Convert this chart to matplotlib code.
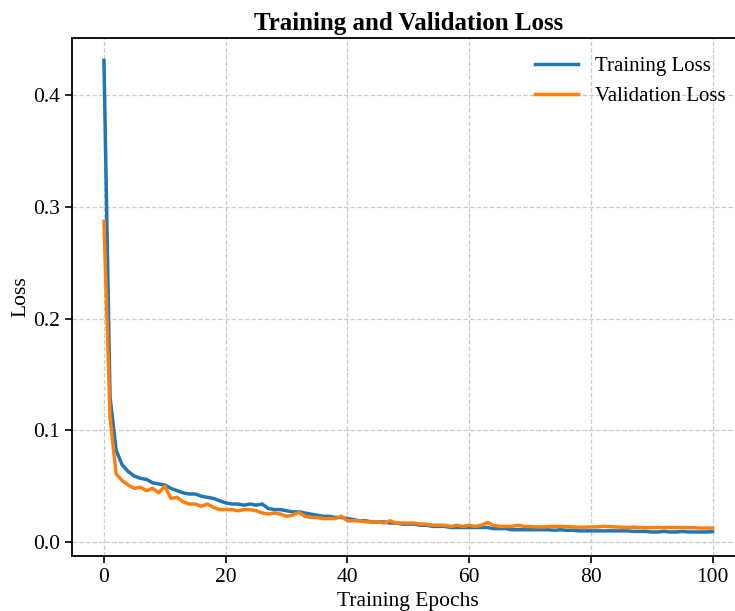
import matplotlib
matplotlib.use("Agg")
import matplotlib.pyplot as plt
import numpy as np

epochs = list(range(101))

train_loss = [
    0.431, 0.130, 0.082, 0.069, 0.063, 0.059, 0.057, 0.056, 0.053, 0.052,
    0.051, 0.048, 0.046, 0.044, 0.043, 0.043, 0.041, 0.040, 0.039, 0.037,
    0.035, 0.034, 0.034, 0.033, 0.034, 0.033, 0.034, 0.030, 0.029, 0.029,
    0.028, 0.027, 0.027, 0.026, 0.025, 0.024, 0.023, 0.023, 0.022, 0.022,
    0.021, 0.020, 0.019, 0.019, 0.018, 0.018, 0.018, 0.017, 0.017, 0.016,
    0.016, 0.016, 0.015, 0.015, 0.014, 0.014, 0.014, 0.013, 0.013, 0.013,
    0.013, 0.013, 0.013, 0.013, 0.012, 0.012, 0.012, 0.011, 0.011, 0.011,
    0.011, 0.011, 0.011, 0.011, 0.0105, 0.011, 0.0105, 0.0105, 0.010, 0.010,
    0.010, 0.010, 0.010, 0.010, 0.010, 0.010, 0.010, 0.0095, 0.0095, 0.0095,
    0.009, 0.009, 0.0095, 0.009, 0.009, 0.0095, 0.009, 0.009, 0.009, 0.009,
    0.0093,
]

val_loss = [
    0.287, 0.112, 0.061, 0.055, 0.051, 0.048, 0.049, 0.046, 0.048, 0.044,
    0.050, 0.039, 0.040, 0.036, 0.034, 0.034, 0.032, 0.034, 0.031, 0.029,
    0.029, 0.029, 0.028, 0.029, 0.029, 0.028, 0.026, 0.025, 0.026, 0.025,
    0.023, 0.024, 0.0265, 0.023, 0.022, 0.022, 0.021, 0.021, 0.021, 0.023,
    0.019, 0.019, 0.019, 0.018, 0.018, 0.018, 0.017, 0.019, 0.017, 0.017,
    0.017, 0.017, 0.016, 0.016, 0.015, 0.015, 0.015, 0.014, 0.015, 0.014,
    0.015, 0.014, 0.015, 0.0175, 0.015, 0.014, 0.014, 0.014, 0.015, 0.014,
    0.0138, 0.0135, 0.0135, 0.0138, 0.014, 0.014, 0.0138, 0.0135, 0.0133, 0.0133,
    0.0135, 0.0135, 0.014, 0.0138, 0.0135, 0.0133, 0.013, 0.0133, 0.013, 0.0128,
    0.0128, 0.013, 0.0128, 0.013, 0.0128, 0.013, 0.0128, 0.0128, 0.0125, 0.0125,
    0.0125,
]

plt.rcParams['font.family'] = ['Liberation Serif', 'DejaVu Serif']
plt.rcParams['mathtext.fontset'] = 'stix'

fig = plt.figure(figsize=(7.35, 6.11), dpi=100)
ax = fig.add_axes([72/735, 55/611, (744.5-72)/735, (556-38)/611])

ax.plot(epochs, train_loss, color='#1f77b4', lw=2.5, label='Training Loss')
ax.plot(epochs, val_loss, color='#ff7f0e', lw=2.5, label='Validation Loss')

ax.set_xlim(-5.25, 105.25)
ax.set_ylim(-0.0125, 0.451)
ax.set_xticks([0, 20, 40, 60, 80, 100])
ax.set_yticks([0.0, 0.1, 0.2, 0.3, 0.4])
ax.set_yticklabels(['0.0', '0.1', '0.2', '0.3', '0.4'])
ax.tick_params(labelsize=15.5, width=1.2, length=5)
for s in ax.spines.values():
    s.set_linewidth(1.3)

ax.grid(True, linestyle='--', color='#cccccc', linewidth=0.9)
ax.set_axisbelow(True)

ax.set_title('Training and Validation Loss', fontsize=18, fontweight='bold', pad=6)
ax.set_xlabel('Training Epochs', fontsize=15.5, labelpad=4)
ax.set_ylabel('Loss', fontsize=15.5, labelpad=2)

ax.legend(loc='upper right', frameon=False, fontsize=15, handlelength=2.1)

fig.savefig('out.png', dpi=100)
